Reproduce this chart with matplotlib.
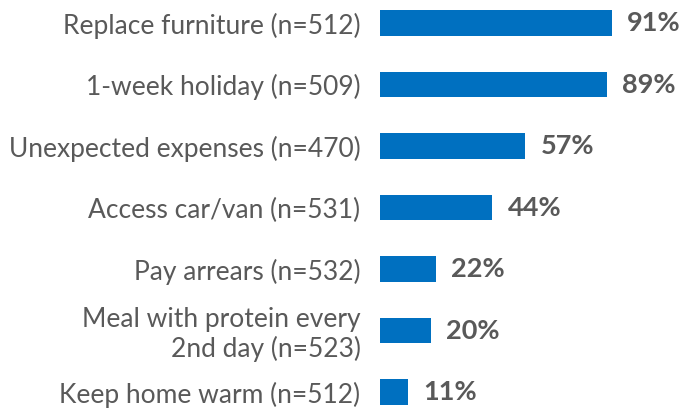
import matplotlib
matplotlib.use("Agg")
import matplotlib.pyplot as plt

categories = [
    "Replace furniture (n=512)",
    "1-week holiday (n=509)",
    "Unexpected expenses (n=470)",
    "Access car/van (n=531)",
    "Pay arrears (n=532)",
    "Meal with protein every\n2nd day (n=523)",
    "Keep home warm (n=512)",
]
values = [91, 89, 57, 44, 22, 20, 11]

BLUE = "#0070C0"
GREY = "#595959"

plt.rcParams["font.family"] = ["Lato", "DejaVu Sans"]

fig = plt.figure(figsize=(6.81, 4.12), dpi=100)
ax = fig.add_axes([380 / 681, 0, 255 / 681, 1])

y = list(range(len(categories)))
ax.barh(y, values, height=0.42, color=BLUE)
for yi, v in zip(y, values):
    ax.annotate(f"{v}%", (v, yi), xytext=(11, 0), textcoords="offset points",
                ha="left", va="center", fontsize=19.5, fontweight="bold",
                color=GREY, clip_on=False)

ax.set_xlim(0, 100)
ax.set_ylim(6.325, -0.374)
ax.set_yticks(y)
ax.set_yticklabels(categories, fontsize=19, color=GREY, linespacing=1.15)
ax.tick_params(axis="y", length=0, pad=14)
ax.set_xticks([])
for s in ax.spines.values():
    s.set_visible(False)

fig.savefig("out.png", dpi=100)
